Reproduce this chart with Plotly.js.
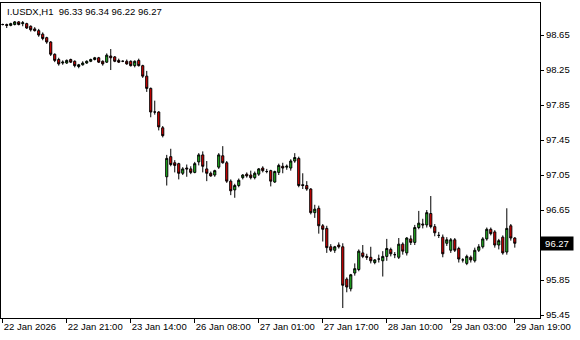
<!DOCTYPE html>
<html><head><meta charset="utf-8">
<script src="https://cdn.plot.ly/plotly-3.0.1.min.js"></script>
<style>html,body{margin:0;padding:0;background:#fff}#chart{width:580px;height:340px}</style>
</head><body><div id="chart"></div>
<script>
const opens = [
98.77,98.77,98.76,98.77,98.80,98.78,98.78,98.75,98.72,98.70,
98.66,98.62,98.57,98.43,98.37,98.33,98.33,98.37,98.35,98.29,
98.31,98.33,98.35,98.37,98.39,98.35,98.34,98.41,98.40,98.36,
98.35,98.35,98.35,98.30,98.36,98.30,98.18,98.04,97.77,97.77,
97.59,97.03,97.26,97.19,97.18,97.07,97.13,97.12,97.08,97.20,
97.28,97.12,97.07,97.05,97.14,97.27,97.19,96.98,96.88,96.93,
97.02,97.06,97.05,97.02,97.06,97.13,97.09,97.10,96.97,97.08,
97.15,97.14,97.13,97.21,97.24,96.94,96.93,96.89,96.62,96.67,
96.47,96.44,96.23,96.19,96.25,96.23,95.86,95.75,95.93,95.97,
96.16,96.12,96.11,96.05,96.09,96.07,96.12,96.20,96.14,96.11,
96.26,96.16,96.32,96.28,96.45,96.49,96.48,96.61,96.46,96.36,
96.34,96.27,96.19,96.31,96.21,96.08,96.04,96.11,96.07,96.19,
96.23,96.32,96.43,96.40,96.25,96.34,96.17,96.47,96.33];
const highs = [
98.78,98.78,98.79,98.81,98.81,98.81,98.79,98.76,98.74,98.72,
98.68,98.63,98.58,98.44,98.39,98.36,98.37,98.38,98.36,98.32,
98.35,98.36,98.38,98.40,98.40,98.36,98.44,98.49,98.41,98.38,
98.36,98.37,98.36,98.36,98.38,98.31,98.24,98.05,97.90,97.78,
97.61,97.28,97.35,97.22,97.19,97.14,97.17,97.15,97.20,97.30,
97.32,97.21,97.09,97.11,97.30,97.38,97.21,97.00,96.95,97.01,
97.06,97.08,97.10,97.09,97.13,97.15,97.12,97.11,97.10,97.18,
97.19,97.17,97.23,97.30,97.26,97.07,96.98,96.90,96.71,96.70,
96.49,96.47,96.26,96.24,96.28,96.27,95.88,95.92,96.04,96.20,
96.25,96.15,96.23,96.09,96.14,96.18,96.32,96.22,96.17,96.33,
96.28,96.34,96.36,96.48,96.64,96.55,96.65,96.81,96.49,96.40,
96.37,96.34,96.33,96.33,96.23,96.10,96.14,96.13,96.22,96.26,
96.34,96.45,96.45,96.42,96.32,96.36,96.67,96.49,96.34];
const lows = [
98.76,98.73,98.75,98.76,98.76,98.75,98.72,98.69,98.69,98.63,
98.59,98.55,98.41,98.34,98.30,98.31,98.32,98.33,98.28,98.27,
98.30,98.32,98.34,98.36,98.33,98.30,98.33,98.25,98.34,98.33,
98.34,98.31,98.29,98.28,98.29,98.16,98.00,97.71,97.74,97.56,
97.48,96.93,97.15,97.08,97.00,97.05,97.03,97.06,97.07,97.16,
97.08,96.98,97.03,97.03,97.12,97.18,96.96,96.82,96.79,96.91,
97.00,97.02,97.00,97.00,97.04,97.08,97.07,96.92,96.96,97.05,
97.07,97.11,97.10,97.19,96.91,96.89,96.87,96.60,96.56,96.38,
96.29,96.16,96.17,96.16,96.21,95.53,95.71,95.72,95.90,95.95,
96.10,96.08,96.04,96.03,96.05,95.89,96.07,96.12,96.10,96.09,
96.14,96.13,96.25,96.25,96.43,96.44,96.45,96.44,96.35,96.33,
96.11,96.24,96.16,96.17,96.05,96.05,96.02,96.05,96.05,96.17,
96.21,96.30,96.36,96.22,96.20,96.14,96.14,96.30,96.22];
const closes = [
98.77,98.76,98.78,98.80,98.77,98.79,98.73,98.71,98.70,98.65,
98.61,98.57,98.43,98.36,98.32,98.34,98.36,98.34,98.30,98.31,
98.33,98.35,98.37,98.39,98.34,98.32,98.42,98.39,98.35,98.34,
98.35,98.32,98.30,98.35,98.30,98.18,98.04,97.77,97.77,97.60,
97.50,97.24,97.17,97.16,97.07,97.12,97.12,97.08,97.18,97.28,
97.15,97.07,97.04,97.10,97.28,97.19,96.98,96.87,96.93,96.99,
97.05,97.04,97.02,97.07,97.12,97.10,97.09,96.98,97.09,97.16,
97.13,97.15,97.21,97.25,96.93,96.93,96.89,96.62,96.66,96.47,
96.43,96.22,96.19,96.23,96.23,95.79,95.77,95.91,95.98,96.18,
96.12,96.11,96.07,96.08,96.09,96.12,96.21,96.15,96.14,96.26,
96.18,96.33,96.28,96.45,96.50,96.48,96.62,96.46,96.39,96.36,
96.15,96.31,96.31,96.19,96.09,96.08,96.12,96.08,96.19,96.23,
96.32,96.43,96.38,96.25,96.30,96.16,96.44,96.33,96.27];
const timeLabels = ['22 Jan 2026','22 Jan 21:00','23 Jan 14:00','26 Jan 08:00','27 Jan 01:00','27 Jan 17:00','28 Jan 10:00','29 Jan 03:00','29 Jan 19:00'];
const timeLabelBars = [0,16,32,48,64,80,96,112,128];
const priceTicks = [95.45,95.85,96.65,97.05,97.45,97.85,98.25,98.65];
const symbol = 'I.USDX,H1';
const lastBar = {o:96.33,h:96.34,l:96.22,c:96.27};

const font = 'Liberation Sans, Arial, sans-serif';
const bars = opens.map((_, i) => i);

const trace = {
  type: 'candlestick',
  x: bars, open: opens, high: highs, low: lows, close: closes,
  increasing: {line: {color: '#000', width: 1}, fillcolor: '#22c022'},
  decreasing: {line: {color: '#000', width: 1}, fillcolor: '#e80000'},
  whiskerwidth: 0,
  hoverinfo: 'none'
};

const layout = {
  width: 580, height: 340,
  margin: {l: 1, r: 40, t: 3, b: 22},
  paper_bgcolor: '#fff', plot_bgcolor: '#fff',
  showlegend: false,
  boxgap: 0.25,
  xaxis: {
    type: 'linear', range: [-0.43, 134.3],
    showgrid: false, zeroline: false,
    showline: true, mirror: true, linecolor: '#000', linewidth: 1,
    tickmode: 'array', tickvals: timeLabelBars, ticktext: timeLabels,
    ticks: 'outside', ticklen: 4, tickcolor: '#000', tickwidth: 1,
    tickangle: 0,
    ticklabelposition: 'outside right',
    tickfont: {family: font, size: 9.5, color: '#000'},
    rangeslider: {visible: false}, fixedrange: true
  },
  yaxis: {
    side: 'right', range: [95.416, 99.016],
    showgrid: false, zeroline: false,
    showline: true, mirror: true, linecolor: '#000', linewidth: 1,
    tickmode: 'array', tickvals: priceTicks, ticktext: priceTicks.map(v => v.toFixed(2)),
    ticks: 'outside', ticklen: 3, tickcolor: '#000', tickwidth: 1,
    tickfont: {family: font, size: 9.5, color: '#000'},
    fixedrange: true
  },
  annotations: [
    {xref: 'paper', yref: 'paper', x: 0.008, y: 0.998, xanchor: 'left', yanchor: 'top',
     text: symbol + '&nbsp;&nbsp;' + [lastBar.o, lastBar.h, lastBar.l, lastBar.c].map(v => v.toFixed(2)).join(' '),
     showarrow: false, font: {family: font, size: 9.5, color: '#000'}},
    {xref: 'paper', yref: 'y', x: 1, y: lastBar.c, xanchor: 'left', yanchor: 'middle',
     text: lastBar.c.toFixed(2), showarrow: false, bgcolor: '#000', borderpad: 1, width: 30,
     font: {family: font, size: 9.5, color: '#fff'}}
  ]
};

Plotly.newPlot('chart', [trace], layout, {staticPlot: true, displayModeBar: false});
</script>
</body></html>
